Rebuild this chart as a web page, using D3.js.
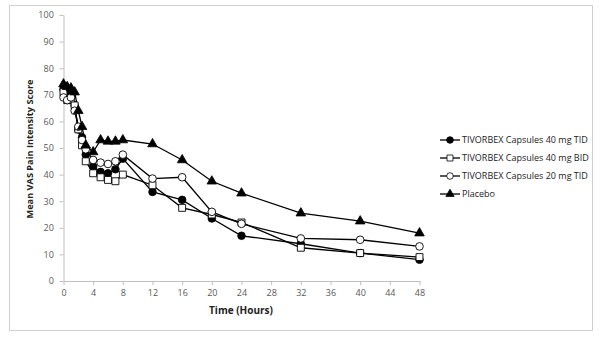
<!DOCTYPE html>
<html><head><meta charset="utf-8">
<script src="https://cdn.jsdelivr.net/npm/d3@7"></script>
<style>body{margin:0;background:#fff}svg{display:block}</style>
</head><body>
<script>
const hours = [0, 0.5, 1, 1.5, 2, 2.5, 3, 4, 5, 6, 7, 8, 12, 16, 20, 24, 32, 40, 48];
const tid40 = [72, 71, 70, 66, 57, 54, 47.5, 43, 41, 40.5, 42, 46, 33.5, 30.5, 23.5, 17, 14, 10.5, 8];
const bid40 = [71, 68, 68, 66, 57, 51, 45, 40.5, 39, 38, 37.5, 40, 36, 27.5, 25, 22, 12.5, 10.5, 9];
const tid20 = [69, 68, 69, 64, 58, 53, 49.5, 45.5, 44.5, 44, 45, 47.5, 38.5, 39, 26, 21.5, 16, 15.5, 13];
const placebo = [74, 73, 72.5, 71, 64, 58, 51, 48.5, 53, 52.5, 52.5, 53, 51.5, 45.5, 37.5, 33, 25.5, 22.5, 18];
const seriesNames = ["TIVORBEX Capsules 40 mg TID", "TIVORBEX Capsules 40 mg BID", "TIVORBEX Capsules 20 mg TID", "Placebo"];
const xTicks = [0, 4, 8, 12, 16, 20, 24, 28, 32, 36, 40, 44, 48];
const yTicks = [0, 10, 20, 30, 40, 50, 60, 70, 80, 90, 100];

const W = 601, H = 340;
const svg = d3.select("body").append("svg").attr("width", W).attr("height", H);
svg.append("rect").attr("x", 9.5).attr("y", 5.5).attr("width", 583).attr("height", 325)
  .attr("fill", "#fff").attr("stroke", "#cfcfcf").attr("stroke-width", 1);

const x = d3.scaleLinear().domain([0, 48]).range([63.5, 419.5]);
const y = d3.scaleLinear().domain([0, 100]).range([281, 15]);
const font = "'Open Sans', 'Liberation Sans', sans-serif";

const gx = svg.append("g").attr("transform", `translate(0,${y(0)})`)
  .call(d3.axisBottom(x).tickValues(xTicks).tickSize(4).tickSizeOuter(0));
const gy = svg.append("g").attr("transform", `translate(${x(0)},0)`)
  .call(d3.axisLeft(y).tickValues(yTicks).tickSize(4).tickSizeOuter(0));
[gx, gy].forEach(g => {
  g.select(".domain").attr("stroke", "#bfbfbf");
  g.selectAll(".tick line").attr("stroke", "#bfbfbf");
  g.selectAll(".tick text").attr("fill", "#595959").style("font-family", font).style("font-size", "9px");
});
gx.selectAll(".tick text").attr("dy", "0.9em");
gy.selectAll(".tick text").attr("dx", "-0.3em");

svg.append("text").attr("x", 241).attr("y", 314).attr("text-anchor", "middle")
  .style("font-family", font).style("font-size", "10px").style("font-weight", "bold").attr("fill", "#222")
  .text("Time (Hours)");
svg.append("text").attr("transform", `translate(33,149) rotate(-90)`).attr("text-anchor", "middle")
  .style("font-family", font).style("font-size", "9.2px").style("font-weight", "bold").attr("fill", "#222")
  .text("Mean VAS Pain Intensity Score");

const allSeries = [
  {name: seriesNames[0], vals: tid40, sym: "circle", fill: "#000"},
  {name: seriesNames[1], vals: bid40, sym: "square", fill: "#fff"},
  {name: seriesNames[2], vals: tid20, sym: "circle", fill: "#fff"},
  {name: seriesNames[3], vals: placebo, sym: "triangle", fill: "#000"}
];
const symType = {circle: d3.symbolCircle, square: d3.symbolSquare, triangle: d3.symbolTriangle};
const symSize = {circle: 46, square: 48, triangle: 40};
const line = d3.line().x((d, i) => x(hours[i])).y(d => y(d));

allSeries.forEach(s => {
  svg.append("path").datum(s.vals).attr("d", line).attr("fill", "none")
    .attr("stroke", "#000").attr("stroke-width", 1.3);
});
allSeries.forEach(s => {
  svg.append("g").selectAll("path").data(s.vals).join("path")
    .attr("transform", (d, i) => `translate(${x(hours[i])},${y(d)})`)
    .attr("d", d3.symbol().type(symType[s.sym]).size(symSize[s.sym]))
    .attr("fill", s.fill).attr("stroke", "#000").attr("stroke-width", s.fill === "#fff" ? 0.9 : 0.8);
});

// legend
const lg = svg.append("g");
allSeries.forEach((s, i) => {
  const ly = 140 + i * 18;
  lg.append("line").attr("x1", 440).attr("x2", 460).attr("y1", ly).attr("y2", ly)
    .attr("stroke", "#000").attr("stroke-width", 1.3);
  lg.append("path").attr("transform", `translate(450,${ly})`)
    .attr("d", d3.symbol().type(symType[s.sym]).size(symSize[s.sym] * 0.75))
    .attr("fill", s.fill).attr("stroke", "#000").attr("stroke-width", 0.8);
  lg.append("text").attr("x", 462).attr("y", ly).attr("dy", "0.35em")
    .style("font-family", font).style("font-size", "9px").attr("fill", "#222")
    .text(s.name);
});
</script>
</body></html>
